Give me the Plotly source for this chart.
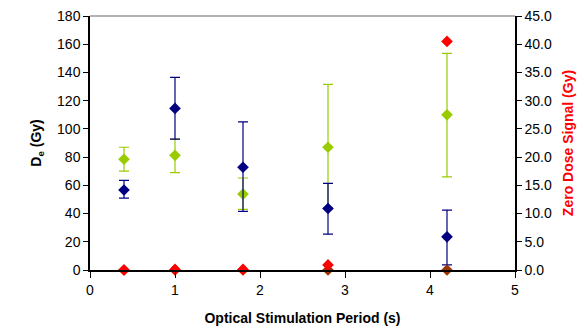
import plotly.graph_objects as go

x = [0.4, 1.0, 1.8, 2.8, 4.2]

de_blue = [56.7, 114.5, 72.8, 43.6, 23.5]
de_blue_hi = [63.5, 136.5, 105.0, 61.4, 42.5]
de_blue_lo = [51.0, 92.7, 41.5, 25.4, 3.6]

de_green = [78.5, 81.3, 53.8, 87.0, 110.0]
de_green_hi = [87.0, 92.7, 65.2, 131.6, 153.5]
de_green_lo = [70.0, 69.0, 43.0, 44.0, 66.0]

zero_brown = [0.0, 0.0, 0.0, 0.0, 0.0]
zero_red = [0.0, 0.1, 0.1, 0.9, 40.5]

fig = go.Figure()

def err(v, hi, lo):
    return dict(type="data", symmetric=False,
                array=[h - a for a, h in zip(v, hi)],
                arrayminus=[a - l for a, l in zip(v, lo)],
                thickness=1.2, width=5)

e = err(de_green, de_green_hi, de_green_lo); e["color"] = "#99CC00"
fig.add_trace(go.Scatter(x=x, y=de_green, mode="markers",
                         marker=dict(symbol="diamond", size=9, color="#99CC00"),
                         error_y=e, showlegend=False))
e = err(de_blue, de_blue_hi, de_blue_lo); e["color"] = "#000080"
fig.add_trace(go.Scatter(x=x, y=de_blue, mode="markers",
                         marker=dict(symbol="diamond", size=9, color="#000080"),
                         error_y=e, showlegend=False))
fig.add_trace(go.Scatter(x=x, y=zero_brown, mode="markers", yaxis="y2",
                         marker=dict(symbol="diamond", size=9, color="#993300"),
                         showlegend=False, cliponaxis=False))
fig.add_trace(go.Scatter(x=x[:3], y=zero_red[:3], mode="markers", yaxis="y2",
                         marker=dict(symbol="diamond", size=9, color="#FF0000"),
                         showlegend=False, cliponaxis=False))
fig.add_trace(go.Scatter(x=x[3:], y=zero_red[3:], mode="markers", yaxis="y2",
                         marker=dict(symbol="diamond", size=9, color="#FF0000"),
                         showlegend=False, cliponaxis=False))

font = dict(family="Liberation Sans, Arial, sans-serif", size=14, color="black")

fig.update_layout(
    width=585, height=331,
    margin=dict(l=90, r=70, t=16, b=61),
    paper_bgcolor="white", plot_bgcolor="white",
    font=font,
    xaxis=dict(range=[0, 5], dtick=1, tick0=0, showgrid=False, zeroline=False,
               showline=True, linecolor="black", linewidth=1.5, automargin=False,
               ticks="outside", ticklen=6, tickcolor="black",
               title=dict(text="<b>Optical Stimulation Period (s)</b>", font=dict(size=14), standoff=17)),
    yaxis=dict(range=[0, 180], dtick=20, showgrid=False, zeroline=False,
               showline=True, linecolor="black", linewidth=1.5, automargin=False,
               ticks="outside", ticklen=5, tickcolor="black",
               title=dict(text="<b>D<sub>e</sub> (Gy)</b>", font=dict(size=14), standoff=12)),
    yaxis2=dict(range=[0, 45], dtick=5, overlaying="y", side="right",
                showgrid=False, zeroline=False, tickformat=".1f", automargin=False,
                showline=True, linecolor="black", linewidth=1.5,
                ticks="outside", ticklen=5, tickcolor="black",
                title=dict(text="<b>Zero Dose Signal (Gy)</b>", font=dict(size=14, color="#FF0000"), standoff=12)),
    shapes=[dict(type="line", xref="paper", yref="paper", x0=0, x1=1, y0=1, y1=1,
                 line=dict(color="#999999", width=1.5))],
)

fig.write_html("out.html")
